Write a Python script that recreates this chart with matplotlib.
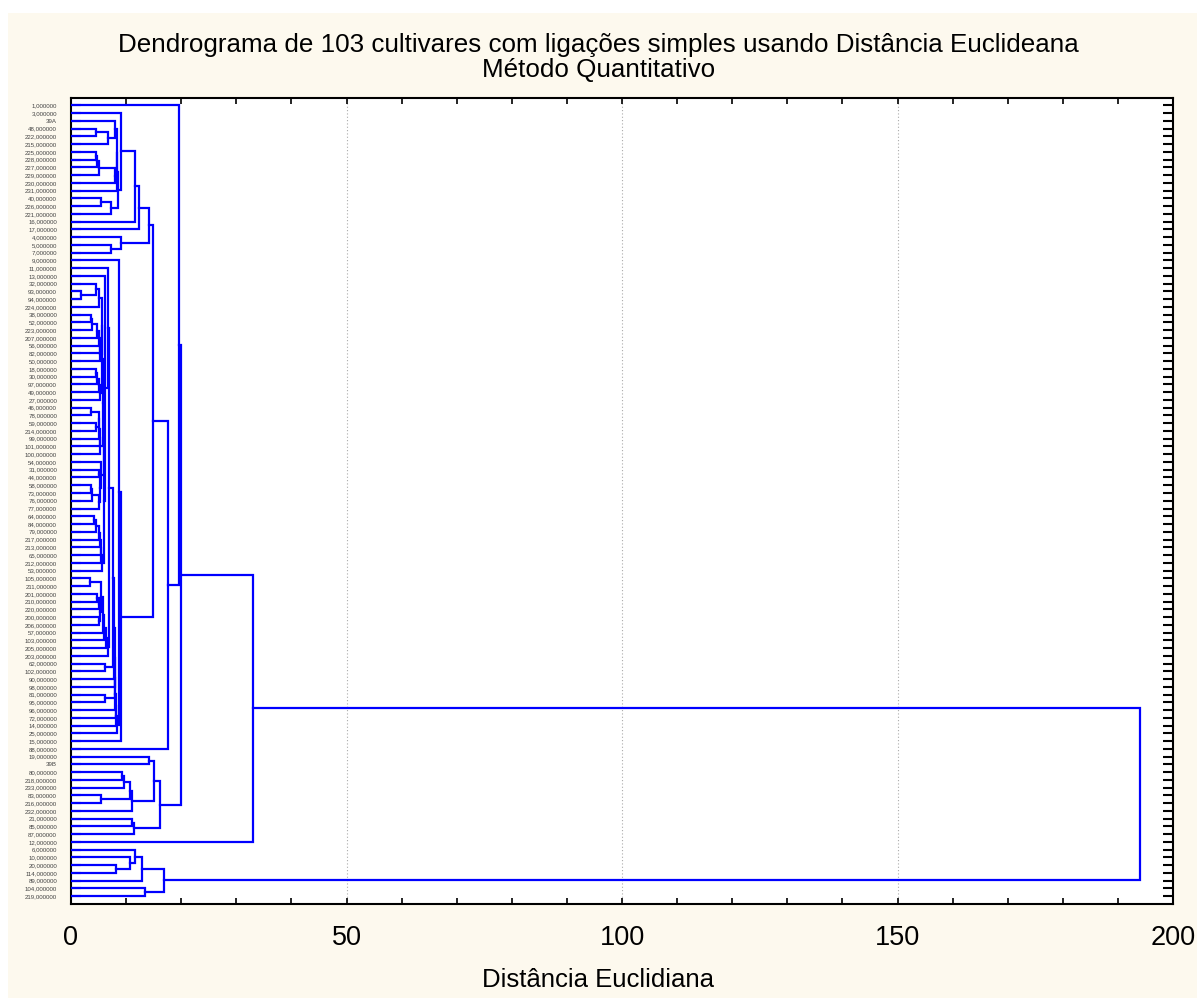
import matplotlib
matplotlib.use("Agg")
import matplotlib.pyplot as plt
from matplotlib.patches import Rectangle
from matplotlib.ticker import MultipleLocator, FixedLocator

plt.rcParams['font.family'] = ['Liberation Sans', 'DejaVu Sans']

# Leaf labels, top to bottom (Statistica order)
labels = [
    "1,000000", "3,000000", "39A", "48,000000", "222,000000", "215,000000",
    "225,000000", "228,000000", "227,000000", "229,000000", "230,000000",
    "231,000000", "40,000000", "226,000000", "221,000000", "16,000000",
    "17,000000", "4,000000", "5,000000", "7,000000", "9,000000", "11,000000",
    "13,000000", "32,000000", "93,000000", "94,000000", "224,000000",
    "38,000000", "52,000000", "223,000000", "207,000000", "56,000000",
    "82,000000", "50,000000", "18,000000", "30,000000", "97,000000",
    "49,000000", "27,000000", "46,000000", "78,000000", "59,000000",
    "214,000000", "99,000000", "101,000000", "100,000000", "54,000000",
    "31,000000", "44,000000", "58,000000", "73,000000", "76,000000",
    "77,000000", "64,000000", "84,000000", "79,000000", "217,000000",
    "213,000000", "65,000000", "212,000000", "53,000000", "105,000000",
    "211,000000", "201,000000", "210,000000", "220,000000", "200,000000",
    "206,000000", "57,000000", "103,000000", "205,000000", "203,000000",
    "62,000000", "102,000000", "90,000000", "98,000000", "81,000000",
    "95,000000", "96,000000", "72,000000", "14,000000", "25,000000",
    "15,000000", "88,000000", "19,000000", "39B", "80,000000",
    "218,000000", "233,000000", "83,000000", "216,000000", "232,000000",
    "21,000000", "85,000000", "87,000000", "12,000000", "6,000000",
    "10,000000", "20,000000", "114,000000", "89,000000", "104,000000",
    "219,000000",
]

# Merges: (name, child_a, child_b, linkage distance)
# children are leaf positions (1 = top leaf) or names of earlier merges
merges = [
    # upper group
    ("T1", 4, 5, 4.5), ("T2", "T1", 6, 6.8), ("T3", 3, "T2", 8.0),
    ("T4", 7, 8, 4.5), ("T5", "T4", 9, 4.8), ("T6", "T5", 10, 5.1),
    ("T7", "T6", 11, 8.0), ("T8", "T3", "T7", 8.3), ("X", "T8", 12, 8.4),
    ("T9", 13, 14, 5.4), ("T10", "T9", 15, 7.3), ("T11", "X", "T10", 8.6),
    ("T12", 2, "T11", 9.0), ("T13", "T12", 16, 11.7), ("T14", "T13", 17, 12.4),
    ("S1", 19, 20, 7.3), ("S2", 18, "S1", 9.0), ("T15", "T14", "S2", 14.2),
    # middle group
    ("t1", 25, 26, 1.9), ("t2", 24, "t1", 4.5), ("t3", "t2", 27, 5.0),
    ("t4a", 28, 29, 3.7), ("t4", "t4a", 30, 3.8), ("t5", "t4", 31, 4.7),
    ("t6", "t5", 32, 5.0), ("t7", "t6", 33, 5.3), ("t8", "t7", 34, 5.3),
    ("t9", "t3", "t8", 5.6),
    ("u0", 35, 36, 4.5), ("u1", "u0", 37, 4.8), ("u2", "u1", 38, 5.1),
    ("u3", "u2", 39, 5.3), ("G1", "t9", "u3", 5.7),
    ("v1", 40, 41, 3.7), ("v2", 42, 43, 4.6), ("v3", "v1", "v2", 5.0),
    ("v4", "v3", 44, 5.1), ("v5", "v4", 45, 5.2), ("v6", "v5", 46, 5.2),
    ("G2", "G1", "v6", 5.8),
    ("w0", 50, 51, 3.7), ("w1", "w0", 52, 3.8), ("w2", "w1", 53, 5.0),
    ("w3", 48, 49, 5.1), ("w4", "w3", "w2", 5.2), ("w5", 47, "w4", 5.4),
    ("G3", "G2", "w5", 5.9),
    ("x1", 54, 55, 4.2), ("x2", "x1", 56, 4.6), ("x3", "x2", 57, 5.0),
    ("x4", "x3", 58, 5.3), ("x5", "x4", 59, 5.4), ("x6", "x5", 60, 5.5),
    ("x7", "x6", 61, 5.6), ("G4", "G3", "x7", 6.0),
    ("G5", 23, "G4", 6.2), ("G6", 22, "G5", 6.8),
    ("y1", 62, 63, 3.4), ("y2a", 64, 65, 4.7), ("y2", "y2a", 66, 5.1),
    ("y3", 67, 68, 5.0), ("y4", "y2", "y3", 5.3), ("y5", "y1", "y4", 5.5),
    ("y6", "y5", 69, 5.8), ("y7", "y6", 70, 5.9), ("y8", "y7", 71, 6.3),
    ("y9", "y8", 72, 6.7), ("K", "G6", "y9", 6.9),
    ("k0", 73, 74, 6.2), ("K1", "K", "k0", 7.6), ("K2", "K1", 75, 7.8),
    ("K3", "K2", 76, 7.9), ("k1", 77, 78, 6.2), ("K4", "K3", "k1", 8.0),
    ("K5", "K4", 79, 8.05), ("K6", "K5", 80, 8.1), ("K7", "K6", 81, 8.25),
    ("K8", "K7", 82, 8.4), ("N1", 21, "K8", 8.7), ("M", "N1", 83, 9.0),
    ("E", "T15", "M", 14.8), ("D", "E", 84, 17.6), ("A", 1, "D", 19.6),
    # 19 ... 87 group
    ("C1", 85, 86, 14.2), ("C2", 87, 88, 9.2), ("C3", "C2", 89, 9.6),
    ("C4", 90, 91, 5.5), ("C5", "C3", "C4", 10.7), ("C6", "C5", 92, 11.0),
    ("C7", "C1", "C6", 15.1), ("C8", 93, 94, 11.0), ("C9", "C8", 95, 11.4),
    ("C10", "C7", "C9", 16.2),
    ("B", "A", "C10", 20.0), ("R1", "B", 96, 33.0),
    # lower group
    ("L1", 99, 100, 8.2), ("L2", 98, "L1", 10.7), ("L3", 97, "L2", 11.7),
    ("L4", "L3", 101, 12.8), ("L5", 102, 103, 13.4), ("L6", "L4", "L5", 16.8),
    ("ROOT", "R1", "L6", 194.1),
]

xticks_major = [0, 50, 100, 150, 200]
title_line1 = "Dendrograma de 103 cultivares com ligações simples usando Distância Euclideana"
title_line2 = "Método Quantitativo"
xlabel_text = "Distância Euclidiana"

W, H = 1197, 998
fig = plt.figure(figsize=(W / 100, H / 100), dpi=100)
fig.patch.set_facecolor("white")
bg = Rectangle((8 / W, 0), 1 - 8 / W, 1 - 13 / H, transform=fig.transFigure,
               facecolor="#fdf9ee", edgecolor="none", zorder=-10)
fig.add_artist(bg)

ax = fig.add_axes([71 / W, 1 - 904 / H, (1173 - 71) / W, (904 - 97.5) / H])
ax.set_zorder(5)
ax.set_facecolor("white")

n = len(labels)
pos = {i + 1: (float(i + 1), 0.0) for i in range(n)}
for name, a, b, d in merges:
    ya, ha = pos[a]
    yb, hb = pos[b]
    ax.plot([ha, d, d, hb], [ya, ya, yb, yb], color="#0000ff", lw=1.6,
            solid_joinstyle="miter", zorder=3)
    pos[name] = ((ya + yb) / 2.0, d)

ax.set_xlim(0, 200)
ax.set_ylim(n + 1, 0)

ax.xaxis.set_major_locator(FixedLocator(xticks_major))
ax.xaxis.set_minor_locator(MultipleLocator(10))
ax.set_xticklabels([str(v) for v in xticks_major], fontsize=19.5)
ax.tick_params(axis="x", which="both", direction="in", top=True, bottom=True,
               length=4, width=1.2, pad=15, colors="black")

ax.set_yticks(range(1, n + 1))
ax.set_yticklabels(labels, fontsize=4.4, color="#444444")
ax.tick_params(axis="y", which="major", direction="in", left=True, right=True,
               length=7, width=1.5, pad=10, colors="black", labelcolor="#444444")

for v in [50, 100, 150]:
    ax.axvline(v, color="#aaaaaa", lw=0.8, ls=(0, (1, 2)), zorder=1)

for s in ax.spines.values():
    s.set_linewidth(1.5)
    s.set_color("black")

fig.text(0.5, 1 - 45 / H, title_line1, ha="center", va="center", fontsize=18.7)
fig.text(0.5, 1 - 70.5 / H, title_line2, ha="center", va="center", fontsize=18.7)
fig.text(0.5, 1 - 980 / H, xlabel_text, ha="center", va="center", fontsize=18.5)

fig.savefig("out.png", dpi=100, facecolor=fig.get_facecolor())
